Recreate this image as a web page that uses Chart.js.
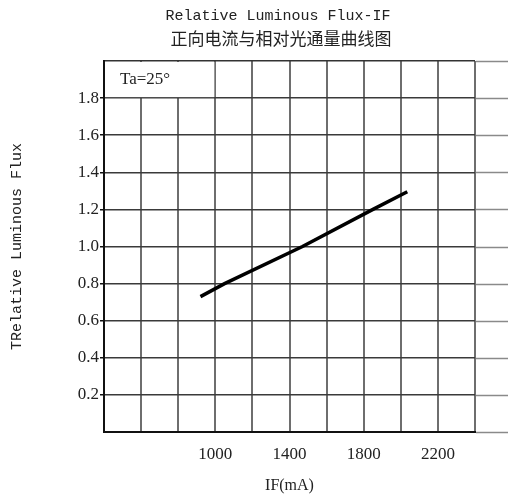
<!DOCTYPE html>
<html>
<head>
<meta charset="utf-8">
<script src="https://cdn.jsdelivr.net/npm/chart.js@4"></script>
<style>
  html, body { margin: 0; padding: 0; background: #fff; }
  #wrap { width: 508px; height: 497px; }
</style>
</head>
<body>
<div id="wrap"><canvas id="fluxChart" width="508" height="497"></canvas></div>
<script>
// Data
const currentMA = [920, 1050, 1470, 1850, 2035];
const relFlux = [0.73, 0.80, 1.00, 1.20, 1.295];
const xTickLabels = [1000, 1400, 1800, 2200];
const yTickLabels = [0.2, 0.4, 0.6, 0.8, 1.0, 1.2, 1.4, 1.6, 1.8];

const textColor = '#222';
const serif = '"Liberation Serif", "DejaVu Serif", serif';
const mono = '"Liberation Mono", "DejaVu Sans Mono", monospace';

const isLabeled = (list, v) => list.some(t => Math.abs(t - v) < 1e-6);

// Titles, the "Ta=25°" box and the grid lines running past the right border
const decorations = {
  id: 'decorations',
  beforeDatasetsDraw(chart) {
    const {ctx, chartArea, scales: {x, y}, width} = chart;
    ctx.save();

    // white box over the grid in the top-left cell group
    const boxRight = x.getPixelForValue(1000);
    const boxBottom = y.getPixelForValue(1.8);
    ctx.fillStyle = '#fff';
    ctx.fillRect(chartArea.left + 1, chartArea.top + 1,
        boxRight - chartArea.left - 2, boxBottom - chartArea.top - 2);

    ctx.fillStyle = textColor;
    ctx.font = '17px ' + serif;
    ctx.textAlign = 'left';
    ctx.textBaseline = 'middle';
    ctx.fillText('Ta=25°', chartArea.left + 16, (chartArea.top + boxBottom) / 2);

    // grid lines continue lightly beyond the right edge
    ctx.strokeStyle = '#8a8a8a';
    ctx.lineWidth = 1.5;
    for (let v = 0; v <= 2.0001; v += 0.2) {
      const py = Math.round(y.getPixelForValue(v)) + 0.5;
      ctx.beginPath();
      ctx.moveTo(chartArea.right + 1, py);
      ctx.lineTo(width, py);
      ctx.stroke();
    }

    // chart title, two lines
    ctx.textAlign = 'center';
    ctx.fillStyle = textColor;
    ctx.font = '15px ' + mono;
    ctx.fillText('Relative Luminous Flux-IF', 278, 16);
    ctx.font = '17px "Noto Sans CJK SC", sans-serif';
    ctx.fillText('正向电流与相对光通量曲线图', 281, 39);

    ctx.restore();
  }
};

const ctx = document.getElementById('fluxChart').getContext('2d');
const fluxChart = new Chart(ctx, {
  type: 'scatter',
  data: {
    datasets: [{
      label: 'Relative Luminous Flux',
      data: currentMA.map((v, i) => ({x: v, y: relFlux[i]})),
      showLine: true,
      borderColor: '#000',
      borderWidth: 3.5,
      pointRadius: 0,
      tension: 0,
    }]
  },
  options: {
    responsive: false,
    animation: false,
    layout: {padding: {top: 61, right: 33, bottom: 0, left: 0}},
    plugins: {
      legend: {display: false},
      tooltip: {enabled: false},
      title: {display: false}
    },
    scales: {
      x: {
        type: 'linear',
        min: 400,
        max: 2400,
        afterFit(scale) { scale.height = 65; },
        ticks: {
          stepSize: 200,
          autoSkip: false,
          maxRotation: 0,
          padding: 12,
          color: textColor,
          font: {family: serif, size: 17},
          callback: v => isLabeled(xTickLabels, v) ? String(v) : ''
        },
        grid: {
          color: '#6e6e6e',
          lineWidth: 2,
          drawTicks: false
        },
        border: {color: '#111', width: 2},
        title: {
          display: true,
          text: 'IF(mA)',
          color: textColor,
          font: {family: serif, size: 16},
          padding: {top: 0, bottom: 2}
        }
      },
      y: {
        min: 0,
        max: 2,
        afterFit(scale) { scale.width = 104; },
        ticks: {
          stepSize: 0.2,
          autoSkip: false,
          padding: 1,
          color: textColor,
          font: {family: serif, size: 17},
          callback: v => isLabeled(yTickLabels, v) ? v.toFixed(1) : ''
        },
        grid: {
          color: c => (c.tick && Math.abs(c.tick.value - 2) < 1e-6) ? '#333' : '#3a3a3a',
          lineWidth: 1.5,
          tickLength: 4,
          tickColor: c => (c.tick && isLabeled(yTickLabels, c.tick.value)) ? '#111' : 'rgba(0,0,0,0)'
        },
        border: {color: '#111', width: 2},
        title: {
          display: true,
          text: 'TRelative Luminous Flux',
          color: textColor,
          font: {family: mono, size: 15},
          padding: {top: 8, bottom: 0}
        }
      }
    }
  },
  plugins: [decorations]
});
</script>
</body>
</html>
